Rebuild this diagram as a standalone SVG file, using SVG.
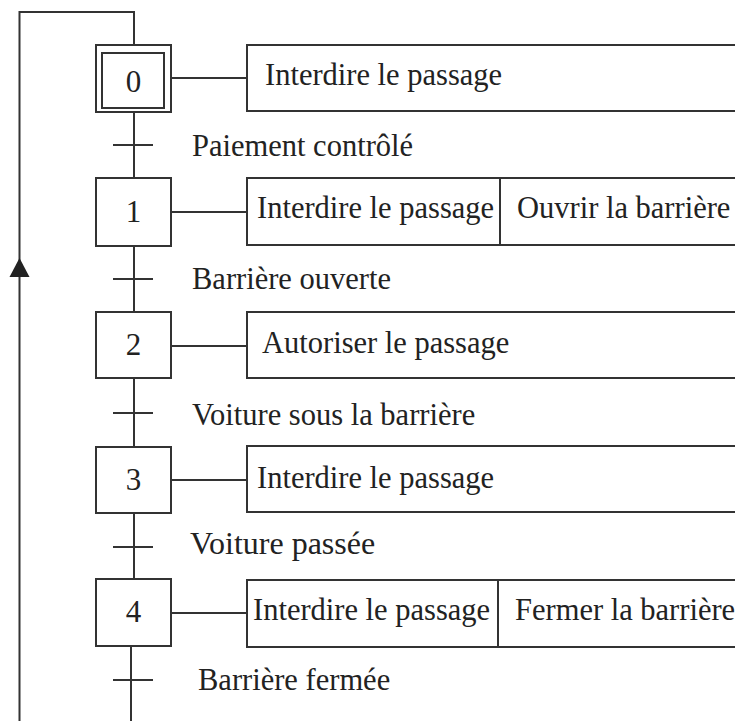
<svg xmlns="http://www.w3.org/2000/svg" width="735" height="721" viewBox="0 0 735 721">
<style>
.ln{stroke:#333;stroke-width:2;fill:none}
.bx{stroke:#333;stroke-width:2;fill:#fff}
.t{font-family:"Liberation Serif","Times New Roman",serif;font-size:30.5px;fill:#222}
.n{font-family:"Liberation Serif","Times New Roman",serif;font-size:31px;fill:#222;text-anchor:middle}
</style>
<rect width="735" height="721" fill="#fff"/>
<g id="connectors">
<path class="ln" d="M19.5,721 V12 H134 V45"/>
<polygon points="19.5,258 9.5,277 29.5,277" fill="#222"/>
<line class="ln" x1="134" y1="112" x2="134" y2="178"/>
<line class="ln" x1="113" y1="145" x2="153" y2="145"/>
<line class="ln" x1="134" y1="246" x2="134" y2="312"/>
<line class="ln" x1="113" y1="279" x2="153" y2="279"/>
<line class="ln" x1="134" y1="378" x2="134" y2="447"/>
<line class="ln" x1="113" y1="413" x2="153" y2="413"/>
<line class="ln" x1="134" y1="513" x2="134" y2="579"/>
<line class="ln" x1="113" y1="547" x2="153" y2="547"/>
<line class="ln" x1="131" y1="646" x2="131" y2="721"/>
<line class="ln" x1="113" y1="680" x2="153" y2="680"/>
<line class="ln" x1="171" y1="78" x2="247" y2="78"/>
<line class="ln" x1="171" y1="212" x2="247" y2="212"/>
<line class="ln" x1="171" y1="346" x2="247" y2="346"/>
<line class="ln" x1="171" y1="480" x2="247" y2="480"/>
<line class="ln" x1="171" y1="613" x2="247" y2="613"/>
<text class="t" x="192" y="156">Paiement contrôlé</text>
<text class="t" x="192" y="289">Barrière ouverte</text>
<text class="t" x="192" y="425">Voiture sous la barrière</text>
<text class="t" x="190" y="554" style="font-size:32px">Voiture passée</text>
<text class="t" x="198" y="690">Barrière fermée</text>
</g>
<g id="step0">
<rect class="bx" x="96" y="45" width="75" height="67"/>
<rect class="ln" x="102" y="53" width="62" height="55"/>
<text class="n" x="133.5" y="92">0</text>
</g>
<g id="action0">
<rect class="bx" x="247" y="45" width="500" height="66"/>
<text class="t" x="265" y="85">Interdire le passage</text>
</g>
<g id="step1">
<rect class="bx" x="96" y="178" width="75" height="68"/>
<text class="n" x="133.5" y="222">1</text>
</g>
<g id="action1">
<rect class="bx" x="247" y="178" width="500" height="67"/>
<line class="ln" x1="500" y1="178" x2="500" y2="245"/>
<text class="t" x="257" y="218">Interdire le passage</text>
<text class="t" x="517" y="218">Ouvrir la barrière</text>
</g>
<g id="step2">
<rect class="bx" x="96" y="312" width="75" height="66"/>
<text class="n" x="133.5" y="355">2</text>
</g>
<g id="action2">
<rect class="bx" x="247" y="312" width="500" height="66"/>
<text class="t" x="262" y="353">Autoriser le passage</text>
</g>
<g id="step3">
<rect class="bx" x="96" y="447" width="75" height="66"/>
<text class="n" x="133.5" y="490">3</text>
</g>
<g id="action3">
<rect class="bx" x="247" y="446" width="500" height="66"/>
<text class="t" x="257" y="488">Interdire le passage</text>
</g>
<g id="step4">
<rect class="bx" x="96" y="579" width="75" height="67"/>
<text class="n" x="133.5" y="622">4</text>
</g>
<g id="action4">
<rect class="bx" x="247" y="580" width="500" height="67"/>
<line class="ln" x1="498" y1="580" x2="498" y2="647"/>
<text class="t" x="253" y="620">Interdire le passage</text>
<text class="t" x="515" y="620">Fermer la barrière</text>
</g>
</svg>
